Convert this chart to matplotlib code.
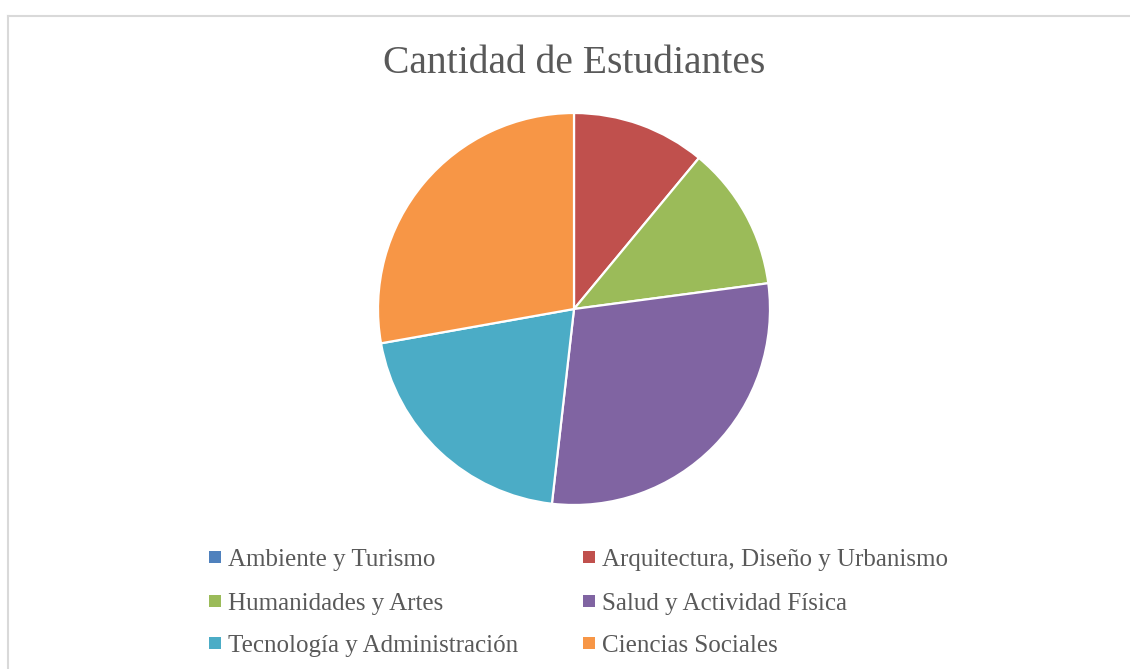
"""Pie chart: Cantidad de Estudiantes por área."""
import matplotlib
matplotlib.use("Agg")
import matplotlib.pyplot as plt
from matplotlib.patches import Rectangle
from matplotlib.lines import Line2D

W, H = 1130, 669

areas = ["Ambiente y Turismo", "Arquitectura, Diseño y Urbanismo",
         "Humanidades y Artes", "Salud y Actividad Física",
         "Tecnología y Administración", "Ciencias Sociales"]
estudiantes = [0, 11.0, 11.9, 28.9, 20.4, 27.8]
colores = ["#4F81BD", "#C0504D", "#9BBB59", "#8064A2", "#4BACC6", "#F79646"]

TXT = "#595959"
FONT = "Liberation Serif"

fig = plt.figure(figsize=(W / 100, H / 100), dpi=100, facecolor="white")

# chart area frame (light grey, only top/left visible)
fig.add_artist(Line2D([8 / W, 8 / W], [0, 1 - 16 / H], color="#d9d9d9", lw=1.5))
fig.add_artist(Line2D([8 / W, 1], [1 - 16 / H, 1 - 16 / H], color="#d9d9d9", lw=1.5))

# pie
cx, cy, r = 574, 309, 196
ax = fig.add_axes([(cx - r) / W, (H - cy - r) / H, 2 * r / W, 2 * r / H])
ax.pie(estudiantes, colors=colores, startangle=90, counterclock=False, radius=1,
       wedgeprops=dict(edgecolor="white", linewidth=1.6))
ax.set_xlim(-1.0, 1.0)
ax.set_ylim(-1.0, 1.0)
ax.set_aspect("equal")
ax.axis("off")

fig.text(574.5 / W, 1 - 73 / H, "Cantidad de Estudiantes", ha="center", va="baseline",
         fontsize=28.5, color=TXT, family=FONT)

# legend, two columns, row-wise
col_x = [209, 583]
row_base = [566, 610, 652]
sq = 12
for i, (lab, c) in enumerate(zip(areas, colores)):
    row, col = divmod(i, 2)
    x = col_x[col]
    yc = row_base[row] - 9.5
    fig.add_artist(Rectangle((x / W, 1 - (yc + sq / 2) / H), sq / W, sq / H,
                             transform=fig.transFigure, color=c, lw=0))
    fig.text((x + 19) / W, 1 - row_base[row] / H, lab, ha="left", va="baseline",
             fontsize=18, color=TXT, family=FONT)

fig.savefig("out.png", dpi=100, facecolor="white")
